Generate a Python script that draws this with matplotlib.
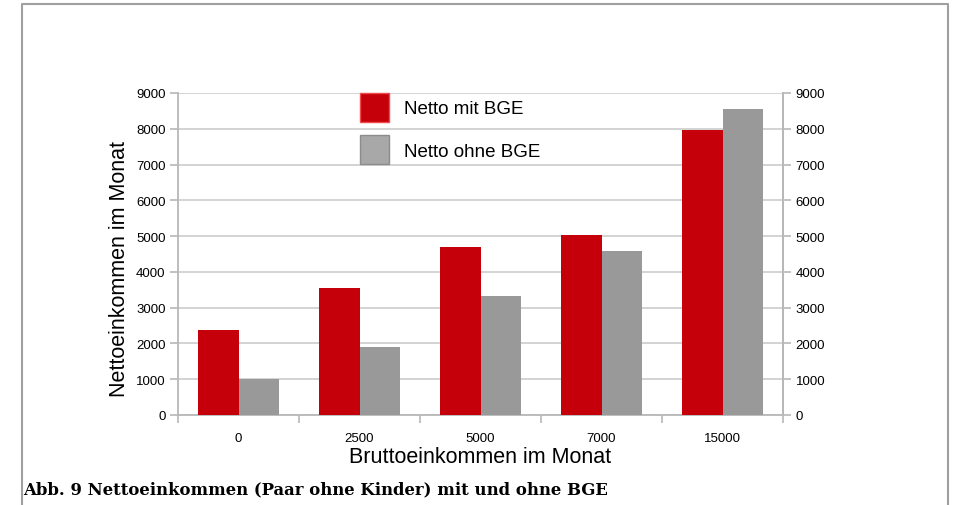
import numpy as np
import matplotlib.pyplot as plt
from matplotlib.patches import Patch
from matplotlib.lines import Line2D

plt.rcParams['font.family'] = ['Liberation Sans', 'DejaVu Sans']

# data
brutto = ['0', '2500', '5000', '7000', '15000']
netto_mit_bge = [2380, 3540, 4700, 5020, 7960]
netto_ohne_bge = [1000, 1890, 3340, 4570, 8550]

red = '#c5000b'
grey = '#999999'
axis_col = '#b8b8b8'
grid_col = '#cccccc'

W, H = 955, 506
fig = plt.figure(figsize=(W / 100, H / 100), dpi=100)
ax = fig.add_axes([178 / W, 1 - 416 / H, (783 - 178) / W, (416 - 94) / H])

x = np.arange(len(brutto))
bw = 0.335
ax.bar(x - bw / 2, netto_mit_bge, bw, color=red, zorder=3)
ax.bar(x + bw / 2, netto_ohne_bge, bw, color=grey, zorder=3)

ax.set_xlim(-0.5, len(brutto) - 0.5)
ax.set_ylim(0, 9000)
ax.set_yticks(np.arange(0, 9001, 1000))
ax.set_xticks(x)
ax.set_xticklabels(brutto)
ax.set_xticks(np.arange(-0.5, len(brutto), 1), minor=True)
ax.tick_params(axis='x', which='major', length=0, pad=12, labelsize=9.5)
ax.tick_params(axis='x', which='minor', length=6, width=1.2, color=axis_col, direction='out')
ax.tick_params(axis='y', length=6, width=1.2, color=axis_col, labelsize=9.5, pad=3)
ax.yaxis.grid(True, color=grid_col, linewidth=1.2, zorder=0)
ax.set_axisbelow(True)

for side in ['left', 'bottom', 'right']:
    ax.spines[side].set_color(axis_col)
    ax.spines[side].set_linewidth(1.3)
ax.spines['top'].set_visible(False)

ax2 = ax.twinx()
ax2.set_ylim(ax.get_ylim())
ax2.set_yticks(np.arange(0, 9001, 1000))
ax2.tick_params(axis='y', length=6, width=1.2, color=axis_col, labelsize=9.5, pad=3)
for side in ['left', 'bottom', 'top']:
    ax2.spines[side].set_visible(False)
ax2.spines['right'].set_color(axis_col)
ax2.spines['right'].set_linewidth(1.3)

ax.set_ylabel('Nettoeinkommen im Monat', fontsize=15.5)
ax.yaxis.set_label_coords(-(178 - 130) / 605, 0.457)
ax.set_xlabel('Bruttoeinkommen im Monat', fontsize=15.5, labelpad=2)

handles = [Patch(facecolor=red, edgecolor='#f04a4a', linewidth=1),
           Patch(facecolor='#a8a8a8', edgecolor='#8c8c8c', linewidth=1)]
ax.legend(handles, ['Netto mit BGE', 'Netto ohne BGE'], loc='upper left',
          bbox_to_anchor=(360 / W, 1 - 94 / H), bbox_transform=fig.transFigure,
          frameon=False, fontsize=13.5, handlelength=1.55, handleheight=2.0,
          handletextpad=0.8, labelspacing=0.7, borderpad=0, borderaxespad=0)

# outer frame (left, top, right)
fig.add_artist(Line2D([22 / W, 22 / W, 948 / W, 948 / W],
                      [0, 1 - 5 / H, 1 - 5 / H, 0],
                      transform=fig.transFigure, color='#a0a0a0', linewidth=1.5))

fig.text(23 / W, 1 - 490 / H, 'Abb. 9 Nettoeinkommen (Paar ohne Kinder) mit und ohne BGE',
         family='DejaVu Serif', fontweight='bold', fontsize=11.9, va='center', ha='left')

fig.savefig('out.png', dpi=100)
